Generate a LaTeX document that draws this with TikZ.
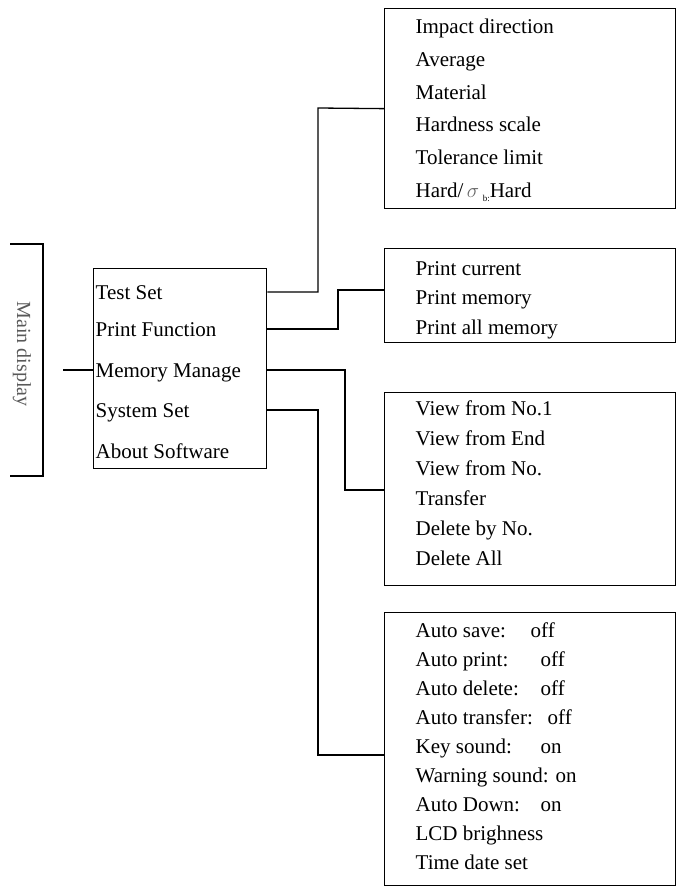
\documentclass[tikz,border=0pt]{standalone}
\usepackage{fontspec}
\setmainfont{Liberation Serif}
\usetikzlibrary{calc}
\tikzset{menubox/.style={draw,line width=1.3pt,inner sep=0pt},
         item/.style={anchor=base west,inner sep=0pt,font=\fontsize{21}{21}\selectfont}}

\begin{document}
\begin{tikzpicture}[x=1pt,y=-1pt,line width=1.3pt]
        \useasboundingbox (0,0) rectangle (681,896);
        % boxes
        \node[menubox,minimum width=173,minimum height=200,anchor=north west] (M) at (93,268) {};
        \node[menubox,minimum width=291,minimum height=200,anchor=north west] (B1) at (384,8) {};
        \node[menubox,minimum width=291,minimum height=94,anchor=north west] (B2) at (384,248) {};
        \node[menubox,minimum width=291,minimum height=193,anchor=north west] (B3) at (384,392) {};
        \node[menubox,minimum width=291,minimum height=273,anchor=north west] (B4) at (384,612) {};

        % main display bracket
        \coordinate (T1) at (10,244);
        \coordinate (T2) at (43,244);
        \coordinate (T3) at (43,476);
        \coordinate (T4) at (10,476);
        \draw (T1)--(T2)--(T3)--(T4);
        \node[rotate=-90,font=\fontsize{20}{20}\selectfont,text=black!65] (MD) at (22,354) {Main display};
        \coordinate (E) at (63,370);

        % main menu
        \node[item] (m1) at (95,299) {Test Set};
        \node[item] (m2) at (95,336) {Print Function};
        \node[item] (m3) at (95,377) {Memory Manage};
        \node[item] (m4) at (95,417) {System Set};
        \node[item] (m5) at (95,458) {About Software};
        \draw (E)--(M.west |- E);

        % submenus
        \foreach \t [count=\i] in {Impact direction,Average,Material,Hardness scale,Tolerance limit}
          \node[item] (a\i) at (415,{34+32.6*(\i-1)}) {\t};
        \node[item] (a6) at (415,197) {Hard/\,{\color{black!60}$\sigma$}\,\raisebox{-4pt}{\small b:}Hard};

        \foreach \t [count=\i] in {Print current,Print memory,Print all memory}
          \node[item] (b\i) at (415,{275+29.5*(\i-1)}) {\t};

        \foreach \t [count=\i] in {View from No.1,View from End,View from No.,Transfer,Delete by No.,Delete All}
          \node[item] (c\i) at (415,{415+30*(\i-1)}) {\t};

        \foreach \t/\v/\x [count=\i] in {Auto save:/off/530,Auto print:/off/540,Auto delete:/off/540,Auto transfer:/off/547,Key sound:/on/540,Warning sound:/on/555,Auto Down:/on/540,LCD brighness//540,Time date set//540}{
          \node[item] (d\i) at (415,{637+29*(\i-1)}) {\t};
          \node[item] (v\i) at (\x,{637+29*(\i-1)}) {\v};
        }

        % connectors
        \draw (M.east |- 0,292) -| (318,108) -- (B1.west);
        \draw (M.east |- 0,329) -| (338,290) -- (B2.west |- 0,290);
        \draw (M.east |- 0,370) -| (345,490) -- (B3.west |- 0,490);
        \draw (M.east |- 0,410) -| (318,755) -- (B4.west |- 0,755);
\end{tikzpicture}
\end{document}
